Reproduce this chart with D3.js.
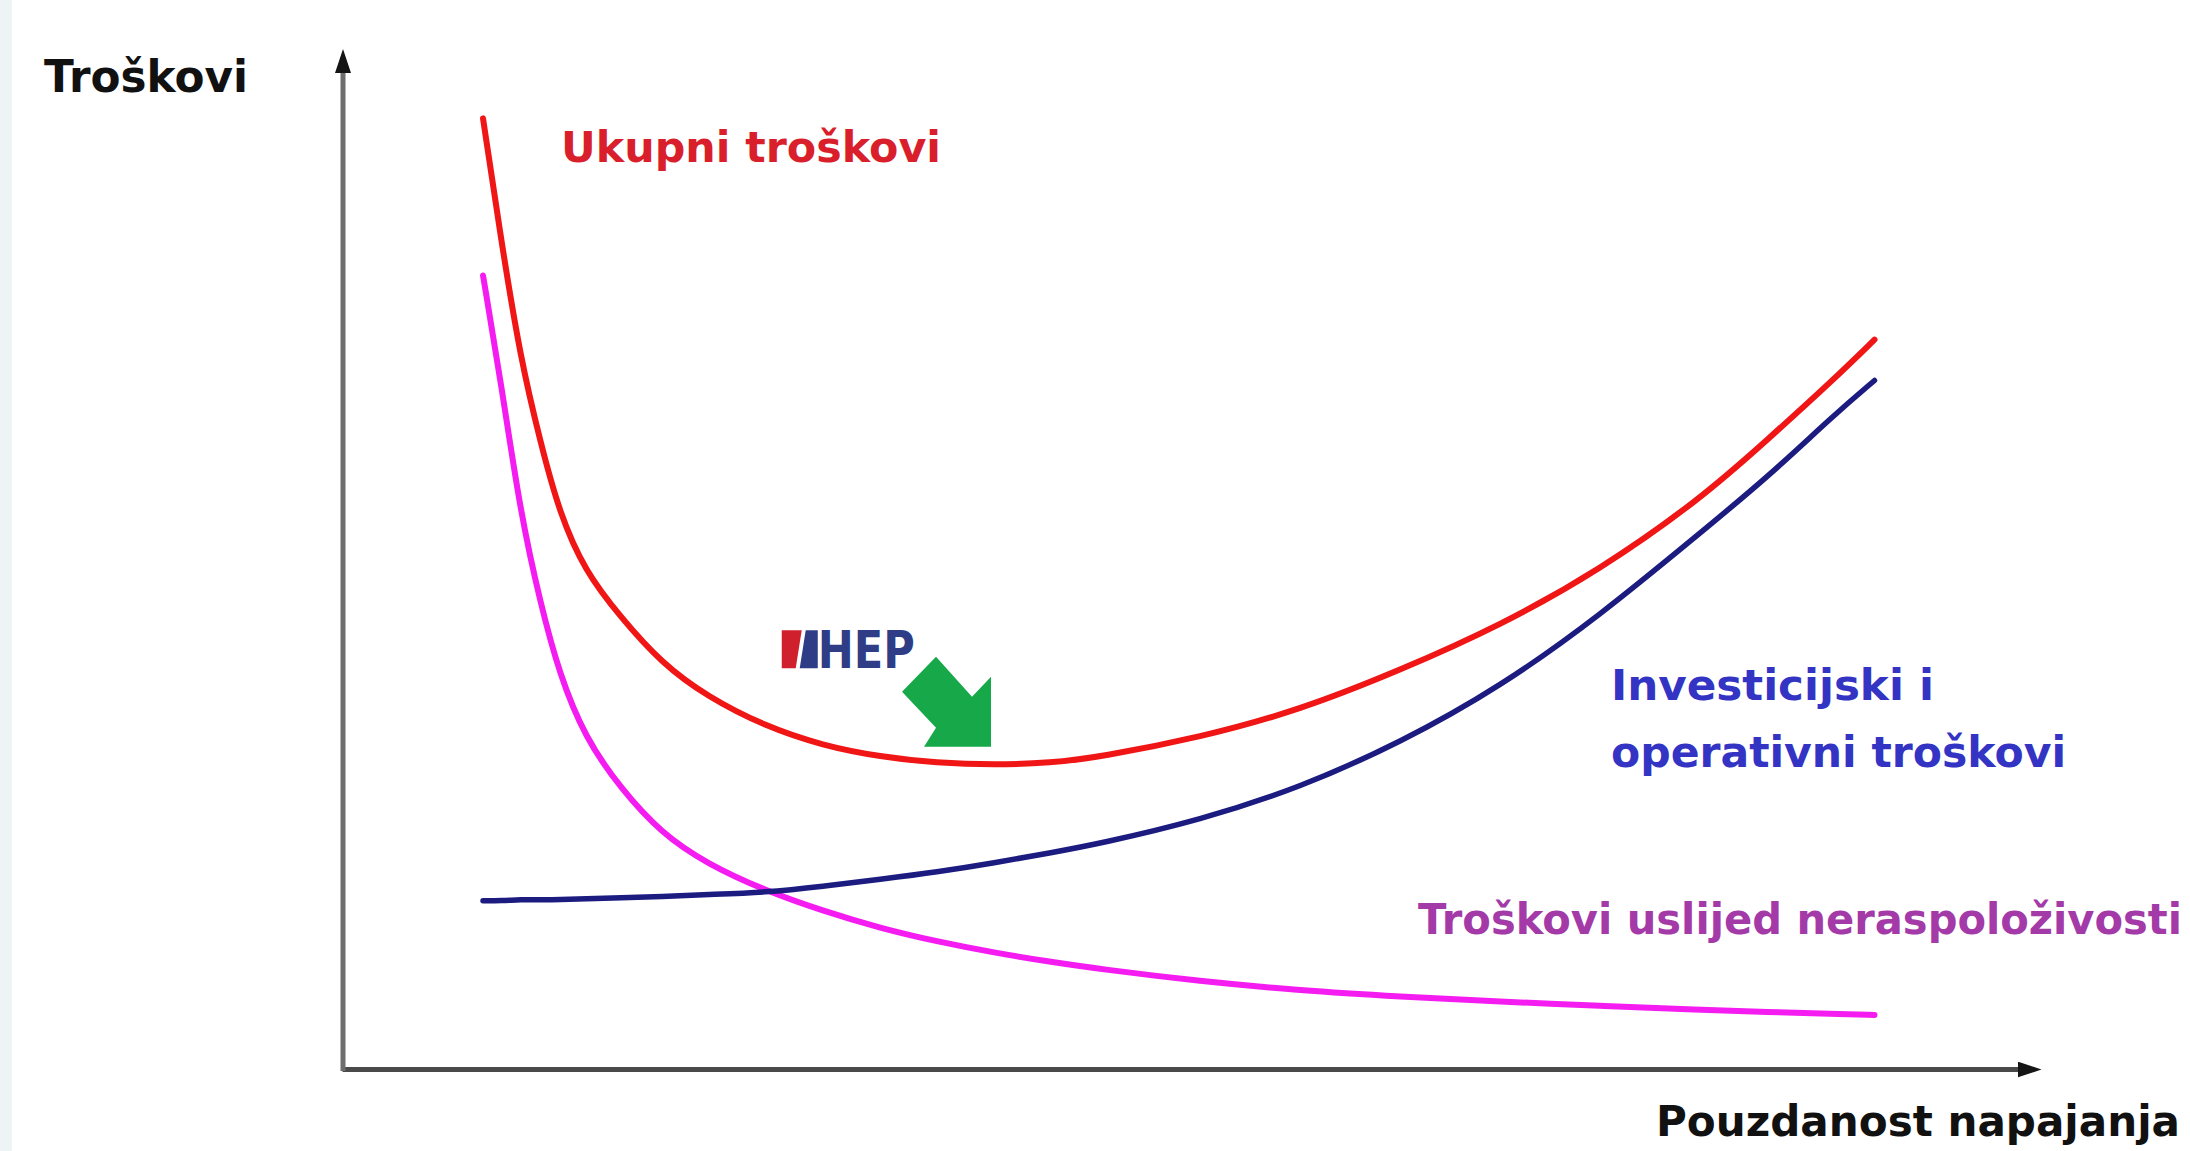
<!DOCTYPE html>
<html>
<head>
<meta charset="utf-8">
<script src="https://cdn.jsdelivr.net/npm/d3@7"></script>
<style>
  html, body { margin: 0; padding: 0; background: #ffffff; }
  svg { display: block; }
  text { font-family: "DejaVu Sans", "Liberation Sans", sans-serif; font-weight: bold; }
</style>
</head>
<body>
<svg id="chart" width="2190" height="1151"></svg>
<script>
// ---- Data (x = reliability, y = cost, arbitrary 0–100 units)
const reliability = [8.3, 9.4, 10.5, 11.7, 12.8, 14.3, 16.4, 18.8, 21.5, 24.9, 28.3, 31.7, 35.0,
                     38.4, 41.7, 44.6, 50.5, 56.4, 62.3, 68.2, 74.0, 79.9, 83.9, 87.8, 90.2];
const totalCost = [93.2, 80.9, 69.7, 61.3, 54.5, 48.8, 44.3, 39.8, 36.5, 33.6, 31.7, 30.6, 30.0,
                   29.8, 30.0, 30.6, 32.5, 35.2, 39.1, 43.5, 48.9, 55.8, 61.7, 67.6, 71.5];
const investCost = [16.5, 16.5, 16.6, 16.6, 16.6, 16.7, 16.8, 16.9, 17.1, 17.3, 17.9, 18.6, 19.3,
                    20.2, 21.2, 22.1, 24.4, 27.6, 32.0, 37.5, 44.4, 52.5, 58.0, 64.1, 67.5];
const outageCost = [77.8, 66.9, 54.5, 45.5, 38.7, 32.5, 27.5, 23.1, 20.1, 17.5, 15.5, 13.8, 12.5,
                    11.4, 10.5, 9.8, 8.6, 7.7, 7.1, 6.6, 6.2, 5.8, 5.6, 5.4, 5.3];
const seriesNames = ["Ukupni troškovi", "Investicijski i operativni troškovi", "Troškovi uslijed neraspoloživosti"];
const yAxisLabel = "Troškovi";
const xAxisLabel = "Pouzdanost napajanja";
const optimumPoint = [38.2, 31.6];   // tip of the green arrow (optimum)
const logoPoint = [28.0, 39.3];      // HEP logo anchor
const logoText = "HEP";

// ---- Layout
const svg = d3.select("#chart");
const x = d3.scaleLinear().domain([0, 100]).range([342, 2041]);
const y = d3.scaleLinear().domain([0, 100]).range([1069, 49]);

// light strip at left edge
svg.append("rect").attr("x", 0).attr("y", 0).attr("width", 12).attr("height", 1151).attr("fill", "#eef3f6");

const defs = svg.append("defs");
["arrowX", "arrowY"].forEach(id => {
  defs.append("marker").attr("id", id)
    .attr("viewBox", "0 0 24 16").attr("refX", 16).attr("refY", 8)
    .attr("markerWidth", 24).attr("markerHeight", 16).attr("markerUnits", "userSpaceOnUse")
    .attr("orient", "auto")
    .append("path").attr("d", "M0,0 L24,8 L0,16 Z").attr("fill", "#151515");
});

// ---- Axes (no ticks, arrow heads)
const gx = svg.append("g").attr("transform", `translate(0,${y(0)})`)
  .call(d3.axisBottom(x.copy().range([342, 2033])).tickValues([]).tickSizeOuter(0));
gx.select(".domain").attr("stroke", "#4a4a4a").attr("stroke-width", 5).attr("marker-end", "url(#arrowX)");

const gy = svg.append("g").attr("transform", `translate(${x(0) + 1},0)`)
  .call(d3.axisLeft(y.copy().range([1069, 57])).tickValues([]).tickSizeOuter(0));
gy.select(".domain").attr("stroke", "#6e6e6e").attr("stroke-width", 5)
  .attr("d", `M0,${y(0) + 2}V57`).attr("marker-end", "url(#arrowY)");

// ---- Lines
const line = d3.line()
  .x(d => x(d[0])).y(d => y(d[1]))
  .curve(d3.curveBasis);

const series = [
  { values: outageCost, color: "#f41cf0", width: 6 },
  { values: investCost, color: "#1b1b80", width: 5.5 },
  { values: totalCost,  color: "#f01616", width: 6 }
];
svg.selectAll("path.series").data(series).join("path")
  .attr("class", "series")
  .attr("d", s => line(reliability.map((r, i) => [r, s.values[i]])))
  .attr("fill", "none")
  .attr("stroke", s => s.color)
  .attr("stroke-width", s => s.width)
  .attr("stroke-linecap", "round")
  .attr("stroke-linejoin", "round");

// ---- Labels
function label(txt, px, py, size, color, len) {
  svg.append("text").attr("x", px).attr("y", py)
    .attr("font-size", size).attr("fill", color)
    .attr("textLength", len).attr("lengthAdjust", "spacingAndGlyphs")
    .text(txt);
}
label(yAxisLabel, 44, 92, 44, "#111111", 204);
label(xAxisLabel, 1656, 1136, 42, "#111111", 524);
label(seriesNames[0], 561, 162, 42, "#d91f2b", 380);
label("Investicijski i", 1611, 700, 42, "#3434c4", 323);
label("operativni troškovi", 1611, 767, 42, "#3434c4", 455);
label(seriesNames[2], 1418, 934, 42, "#a33aa8", 764);

// ---- HEP logo
const lx = x(logoPoint[0]), ly = y(logoPoint[1]);
const logo = svg.append("g").attr("transform", `translate(${lx},${ly})`);
logo.append("path").attr("d", "M-36,-38 L-16,-38 L-22,0 L-36,0 Z").attr("fill", "#d0202e");
logo.append("path").attr("d", "M-12,-38 L0,-38 L0,0 L-18,0 Z").attr("fill", "#2e3d86");
logo.append("text").attr("x", 0).attr("y", 0)
  .attr("font-family", "'DejaVu Sans Condensed', 'DejaVu Sans', sans-serif")
  .attr("font-size", 52).attr("fill", "#2e3d86")
  .attr("textLength", 97).attr("lengthAdjust", "spacingAndGlyphs")
  .text(logoText);

// ---- Green optimum arrow
const tx = x(optimumPoint[0]), ty = y(optimumPoint[1]);
const arrowShape = [[-55, -90], [-19, -50], [0, -70], [0, 0], [-67, 0], [-55, -19], [-89, -55]];
svg.append("path")
  .attr("d", "M" + arrowShape.map(p => [tx + p[0], ty + p[1]].join(",")).join("L") + "Z")
  .attr("fill", "#17a84a");
</script>
</body>
</html>
